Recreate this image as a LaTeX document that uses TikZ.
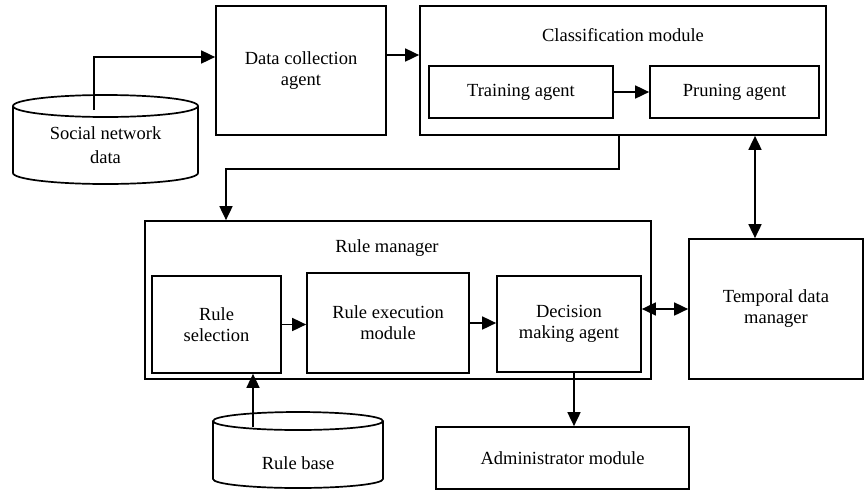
\documentclass[tikz,border=0pt]{standalone}
\usepackage{fontspec}
\setmainfont{Liberation Serif}
\usetikzlibrary{arrows.meta}
\begin{document}
\begin{tikzpicture}[x=1pt,y=-1pt,
  box/.style={draw,line width=1.7pt,rectangle,inner sep=0pt,align=center,font=\fontsize{18.5}{21}\selectfont},
  dbase/.style={line width=1.7pt},
  title/.style={inner sep=0pt,align=center,font=\fontsize{18.5}{23.5}\selectfont},
  arr/.style={line width=1.7pt,-{Triangle[length=14pt,width=13pt]}},
  darr/.style={line width=1.7pt,{Triangle[length=14pt,width=13pt]}-{Triangle[length=14pt,width=13pt]}}]
\useasboundingbox (0,0) rectangle (866,491);
\draw [dbase] (13,106) -- (13,173) arc[start angle=180,end angle=0,x radius=92.5,y radius=11] -- (198,106);
\draw [dbase] (105.5,106) ellipse [x radius=92.5,y radius=11];
\node (snd) [title] at (105.5,145) {Social network\\data};
\draw [dbase] (213,421) -- (213,479) arc[start angle=180,end angle=0,x radius=85,y radius=9] -- (383,421);
\draw [dbase] (298,421) ellipse [x radius=85,y radius=9];
\node (rb) [title] at (298,463) {Rule base};
\node (dca) [box,minimum width=170pt,minimum height=129pt] at (301,70.5) {Data collection\\agent};
\node (cls) [box,minimum width=406pt,minimum height=129pt] at (623,70.5) {};
\node (clst) [title] at (623,35) {Classification module};
\node (trn) [box,minimum width=184pt,minimum height=52pt] at (521,92) {Training agent};
\node (prn) [box,minimum width=169pt,minimum height=52pt] at (734.5,92) {Pruning agent};
\node (rm) [box,minimum width=506pt,minimum height=158pt] at (398,300) {};
\node (rmt) [title] at (387,248) {Rule manager};
\node (rsel) [box,minimum width=129pt,minimum height=97pt] at (216.5,324.5) {Rule\\selection};
\node (rex) [box,minimum width=162pt,minimum height=100pt] at (388,323) {Rule execution\\module};
\node (dec) [box,minimum width=144pt,minimum height=96pt] at (569,324) {Decision\\making agent};
\node (tdm) [box,minimum width=174pt,minimum height=140pt] at (776,309) {Temporal data\\manager};
\node (adm) [box,minimum width=253pt,minimum height=62pt] at (562.5,458) {Administrator module};
\coordinate (sndtop) at (94,110);
\coordinate (rbtop) at (253,427);
\coordinate (c1) at (619,169);
\coordinate (c2) at (755,187);
\draw [arr] (sndtop) |- ([yshift=13.5pt]dca.west);
\draw [arr] ([yshift=15.5pt]dca.east) -- ([yshift=15.5pt]dca.east -| cls.west);
\draw [arr] (trn.east) -- (prn.west);
\draw [arr] (c1 |- cls.south) -- (c1) -| ([xshift=-172pt]rm.north);
\draw [darr] (c2 |- cls.south) -- (c2 |- tdm.north);
\draw [arr] (rsel.east) -- (rsel.east -| rex.west);
\draw [arr] (rex.east) -- (rex.east -| dec.west);
\draw [darr] (tdm.west) -- (tdm.west -| dec.east);
\draw [arr] ([xshift=5pt]dec.south) -- ([xshift=5pt]dec.south |- adm.north);
\draw [arr] (rbtop) -- (rbtop |- rsel.south);
\end{tikzpicture}
\end{document}
